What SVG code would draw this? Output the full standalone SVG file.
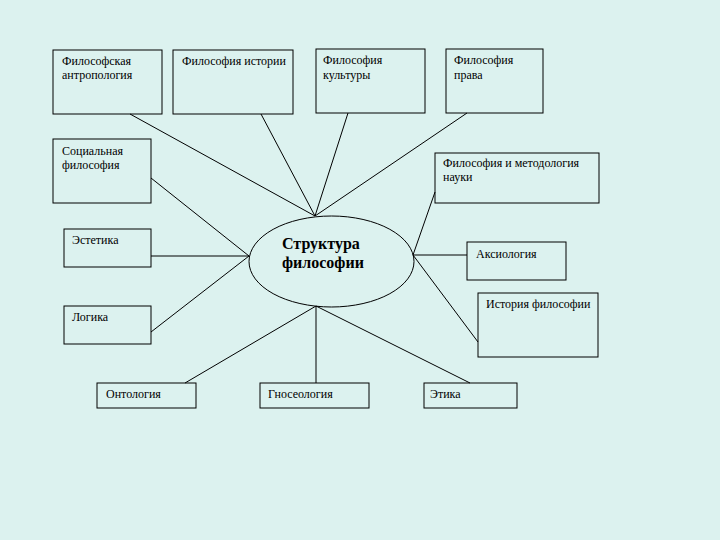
<svg xmlns="http://www.w3.org/2000/svg" width="720" height="540" viewBox="0 0 720 540">
<style>
.b{fill:none;stroke:#000;stroke-width:1}
.t{font-family:"Liberation Serif","Times New Roman",serif;font-size:12px;fill:#000}
.h{font-family:"Liberation Serif","Times New Roman",serif;font-size:16px;font-weight:bold;fill:#000}
.c line{stroke:#000;stroke-width:1}
</style>
<rect width="720" height="540" fill="#DCF2EF"/>
<g class="c" id="connectors">
<line x1="130" y1="114" x2="315" y2="216"/>
<line x1="261" y1="114" x2="315" y2="216"/>
<line x1="348" y1="113" x2="315" y2="216"/>
<line x1="467" y1="113" x2="315" y2="216"/>
<line x1="151" y1="178" x2="249" y2="256"/>
<line x1="151" y1="256" x2="249" y2="256"/>
<line x1="151" y1="332" x2="249" y2="256"/>
<line x1="435" y1="192" x2="413" y2="255"/>
<line x1="467" y1="255" x2="413" y2="255"/>
<line x1="478" y1="342" x2="413" y2="255"/>
<line x1="185" y1="383" x2="316" y2="306"/>
<line x1="316" y1="383" x2="316" y2="306"/>
<line x1="470" y1="383" x2="316" y2="306"/>
</g>
<g id="center">
<ellipse class="b" cx="331.5" cy="261.5" rx="82.5" ry="45.5"/>
<text class="h" x="282" y="249">Структура</text>
<text class="h" x="282" y="268">философии</text>
</g>
<g id="n1"><rect class="b" x="53" y="50" width="109" height="64"/><text class="t" x="62" y="65">Философская</text><text class="t" x="62" y="79">антропология</text></g>
<g id="n2"><rect class="b" x="173" y="50" width="120" height="64"/><text class="t" x="182" y="65">Философия истории</text></g>
<g id="n3"><rect class="b" x="316" y="49" width="109" height="64"/><text class="t" x="323" y="64">Философия</text><text class="t" x="323" y="79">культуры</text></g>
<g id="n4"><rect class="b" x="446" y="49" width="97" height="64"/><text class="t" x="454" y="64">Философия</text><text class="t" x="454" y="79">права</text></g>
<g id="n5"><rect class="b" x="435" y="153" width="164" height="50"/><text class="t" x="443" y="167">Философия и методология</text><text class="t" x="443" y="181">науки</text></g>
<g id="n6"><rect class="b" x="467" y="242" width="99" height="38"/><text class="t" x="476" y="258">Аксиология</text></g>
<g id="n7"><rect class="b" x="478" y="293" width="120" height="64"/><text class="t" x="486" y="308">История философии</text></g>
<g id="n8"><rect class="b" x="53" y="139" width="98" height="64"/><text class="t" x="62" y="155">Социальная</text><text class="t" x="62" y="169">философия</text></g>
<g id="n9"><rect class="b" x="64" y="229" width="87" height="38"/><text class="t" x="72" y="244">Эстетика</text></g>
<g id="n10"><rect class="b" x="64" y="306" width="87" height="38"/><text class="t" x="72" y="321">Логика</text></g>
<g id="n11"><rect class="b" x="97" y="383" width="99" height="25"/><text class="t" x="106" y="398">Онтология</text></g>
<g id="n12"><rect class="b" x="260" y="383" width="109" height="25"/><text class="t" x="268" y="398">Гносеология</text></g>
<g id="n13"><rect class="b" x="424" y="383" width="93" height="25"/><text class="t" x="430" y="398">Этика</text></g>
</svg>
